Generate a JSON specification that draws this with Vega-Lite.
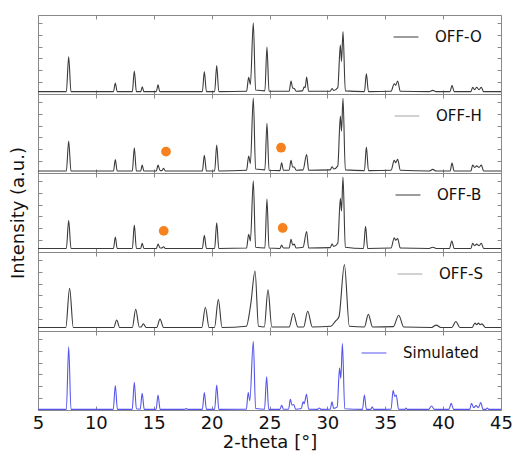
{
"$schema": "https://vega.github.io/schema/vega-lite/v6.json",
"padding": {"left": 8, "top": 14, "right": 2, "bottom": 0},
"background": "white",
"spacing": 0,
"bounds": "flush",
"config": {
  "font": "DejaVu Sans",
  "view": {"stroke": "#888", "strokeWidth": 1},
  "axis": {"grid": false, "domain": false, "tickColor": "#888", "tickSize": -4, "labels": false, "labelFlush": false, "labelFontSize": 18, "labelColor": "#111", "titleFontSize": 18, "titleFontWeight": "normal", "titleColor": "#111"},
  "legend": {"orient": "none", "padding": 0, "labelFontSize": 15, "labelColor": "#111", "symbolType": "stroke", "symbolSize": 620, "symbolStrokeWidth": 1, "labelOffset": 16}
},
"resolve": {"scale": {"color": "independent"}, "legend": {"color": "independent"}},
"datasets": {
"O": [{"x":5,"y":3},{"x":7.45,"y":3},{"x":7.65,"y":47},{"x":7.85,"y":3},{"x":11.52,"y":3},{"x":11.68,"y":14},{"x":11.84,"y":3},{"x":13.15,"y":3},{"x":13.32,"y":29},{"x":13.5,"y":3},{"x":13.87,"y":3},{"x":14.01,"y":9},{"x":14.15,"y":3},{"x":15.22,"y":3},{"x":15.37,"y":11.5},{"x":15.52,"y":3},{"x":19.2,"y":3},{"x":19.37,"y":28.5},{"x":19.55,"y":3},{"x":20.26,"y":3},{"x":20.44,"y":36},{"x":20.62,"y":3},{"x":23.02,"y":3.5},{"x":23.2,"y":21},{"x":23.35,"y":12},{"x":23.6,"y":90},{"x":23.8,"y":5},{"x":24.6,"y":4},{"x":24.78,"y":59.5},{"x":24.96,"y":3.5},{"x":26.7,"y":3.5},{"x":26.86,"y":16.5},{"x":27.0,"y":7.5},{"x":27.14,"y":7},{"x":27.3,"y":3.5},{"x":27.85,"y":4},{"x":28.0,"y":9},{"x":28.08,"y":8},{"x":28.21,"y":21.5},{"x":28.38,"y":3.5},{"x":30.25,"y":3.5},{"x":30.4,"y":7},{"x":30.55,"y":4.5},{"x":30.9,"y":8},{"x":31.12,"y":62},{"x":31.22,"y":41},{"x":31.35,"y":79},{"x":31.55,"y":4},{"x":33.2,"y":3},{"x":33.37,"y":25.5},{"x":33.55,"y":3},{"x":35.5,"y":3.5},{"x":35.78,"y":13},{"x":35.9,"y":11},{"x":36.07,"y":16.5},{"x":36.3,"y":3.5},{"x":38.8,"y":3},{"x":39.1,"y":4.6},{"x":39.4,"y":3},{"x":40.6,"y":3},{"x":40.77,"y":11},{"x":40.95,"y":3},{"x":42.4,"y":3},{"x":42.55,"y":8.5},{"x":42.72,"y":5.5},{"x":42.9,"y":8.5},{"x":43.1,"y":5.5},{"x":43.3,"y":8.5},{"x":43.5,"y":3},{"x":45,"y":3}],
"H": [{"x":5,"y":2.5},{"x":7.45,"y":2.5},{"x":7.65,"y":40.5},{"x":7.85,"y":2.5},{"x":11.52,"y":2.5},{"x":11.68,"y":17},{"x":11.84,"y":2.5},{"x":13.15,"y":2.5},{"x":13.32,"y":32},{"x":13.5,"y":2.5},{"x":13.87,"y":2.5},{"x":14.0,"y":10},{"x":14.15,"y":2.5},{"x":15.22,"y":2.5},{"x":15.37,"y":10},{"x":15.55,"y":3},{"x":15.7,"y":3},{"x":15.85,"y":6},{"x":16.0,"y":2.5},{"x":19.2,"y":2.5},{"x":19.37,"y":22.5},{"x":19.55,"y":2.5},{"x":20.26,"y":2.5},{"x":20.44,"y":35.5},{"x":20.62,"y":2.5},{"x":23.02,"y":3.5},{"x":23.2,"y":21.5},{"x":23.35,"y":12},{"x":23.6,"y":95},{"x":23.8,"y":5},{"x":24.6,"y":4},{"x":24.78,"y":63},{"x":24.96,"y":3.5},{"x":25.9,"y":3},{"x":26.05,"y":13},{"x":26.2,"y":3.5},{"x":26.7,"y":3.5},{"x":26.86,"y":16},{"x":27.0,"y":7.5},{"x":27.14,"y":7.6},{"x":27.3,"y":3.5},{"x":27.9,"y":4},{"x":28.21,"y":23.5},{"x":28.38,"y":3.5},{"x":30.25,"y":4},{"x":30.4,"y":8},{"x":30.55,"y":5},{"x":30.9,"y":9},{"x":31.12,"y":72},{"x":31.22,"y":53},{"x":31.35,"y":94.5},{"x":31.55,"y":4},{"x":33.2,"y":3},{"x":33.37,"y":33},{"x":33.55,"y":3},{"x":35.5,"y":3.5},{"x":35.78,"y":16},{"x":35.9,"y":13},{"x":36.07,"y":17.5},{"x":36.3,"y":3.5},{"x":38.8,"y":2.5},{"x":39.1,"y":4.6},{"x":39.4,"y":2.5},{"x":40.6,"y":2.5},{"x":40.77,"y":12.5},{"x":40.95,"y":2.5},{"x":42.4,"y":2.5},{"x":42.55,"y":10},{"x":42.72,"y":7},{"x":42.9,"y":9},{"x":43.1,"y":7},{"x":43.3,"y":10},{"x":43.5,"y":2.5},{"x":45,"y":2.5}],
"B": [{"x":5,"y":4.5},{"x":7.45,"y":4.5},{"x":7.65,"y":40},{"x":7.85,"y":4.5},{"x":11.52,"y":4.5},{"x":11.68,"y":19},{"x":11.84,"y":4.5},{"x":13.15,"y":4.5},{"x":13.32,"y":34},{"x":13.5,"y":4.5},{"x":13.87,"y":4.5},{"x":14.0,"y":11},{"x":14.15,"y":4.5},{"x":15.22,"y":4.5},{"x":15.37,"y":10},{"x":15.55,"y":5},{"x":15.7,"y":5},{"x":15.85,"y":6.7},{"x":16.0,"y":4.5},{"x":19.2,"y":4.5},{"x":19.37,"y":21},{"x":19.55,"y":4.5},{"x":20.26,"y":4.5},{"x":20.44,"y":37},{"x":20.62,"y":4.5},{"x":23.02,"y":5},{"x":23.2,"y":22.5},{"x":23.35,"y":14},{"x":23.6,"y":90},{"x":23.8,"y":6},{"x":24.6,"y":5},{"x":24.78,"y":67},{"x":24.96,"y":5},{"x":25.9,"y":4.5},{"x":26.05,"y":8.7},{"x":26.2,"y":5},{"x":26.7,"y":5},{"x":26.86,"y":16},{"x":27.0,"y":9},{"x":27.14,"y":10},{"x":27.3,"y":5},{"x":27.9,"y":6},{"x":28.21,"y":26},{"x":28.38,"y":5},{"x":30.25,"y":5.5},{"x":30.4,"y":10},{"x":30.55,"y":7},{"x":30.9,"y":11},{"x":31.12,"y":68},{"x":31.22,"y":52},{"x":31.35,"y":95},{"x":31.55,"y":6},{"x":33.12,"y":4.5},{"x":33.3,"y":32.5},{"x":33.48,"y":4.5},{"x":35.5,"y":5},{"x":35.78,"y":18},{"x":35.9,"y":15},{"x":36.07,"y":17},{"x":36.3,"y":5},{"x":38.8,"y":4.5},{"x":39.1,"y":6},{"x":39.4,"y":4.5},{"x":40.55,"y":4.5},{"x":40.75,"y":14},{"x":40.95,"y":4.5},{"x":42.4,"y":4.5},{"x":42.55,"y":11},{"x":42.72,"y":8},{"x":42.9,"y":10},{"x":43.1,"y":8},{"x":43.3,"y":11},{"x":43.5,"y":4.5},{"x":45,"y":4.5}],
"S": [{"x":5,"y":4.5},{"x":7.4,"y":4.5},{"x":7.73,"y":54},{"x":8.05,"y":4.5},{"x":11.55,"y":4.5},{"x":11.8,"y":14},{"x":12.05,"y":4.5},{"x":13.15,"y":4.5},{"x":13.44,"y":27.5},{"x":13.75,"y":5},{"x":13.9,"y":5},{"x":14.1,"y":9},{"x":14.35,"y":4.5},{"x":15.25,"y":4.5},{"x":15.54,"y":15},{"x":15.85,"y":4.5},{"x":19.15,"y":4.5},{"x":19.46,"y":30},{"x":19.78,"y":4.5},{"x":20.25,"y":4.5},{"x":20.58,"y":40},{"x":20.9,"y":4.5},{"x":23.0,"y":6},{"x":23.38,"y":34},{"x":23.75,"y":76},{"x":24.05,"y":6},{"x":24.55,"y":5},{"x":24.87,"y":52},{"x":25.2,"y":5},{"x":26.7,"y":5},{"x":27.06,"y":22.5},{"x":27.45,"y":5},{"x":27.95,"y":5},{"x":28.3,"y":25},{"x":28.7,"y":5},{"x":30.3,"y":6},{"x":30.7,"y":12.5},{"x":31.0,"y":18},{"x":31.47,"y":84},{"x":31.9,"y":6},{"x":33.2,"y":5},{"x":33.54,"y":21},{"x":33.9,"y":5},{"x":35.7,"y":5.5},{"x":36.16,"y":20},{"x":36.6,"y":5},{"x":39.0,"y":4.5},{"x":39.4,"y":7.5},{"x":39.8,"y":4.5},{"x":40.75,"y":4.5},{"x":41.1,"y":12},{"x":41.45,"y":4.5},{"x":42.5,"y":4.5},{"x":42.75,"y":10},{"x":42.9,"y":8},{"x":43.05,"y":10},{"x":43.2,"y":8},{"x":43.35,"y":9},{"x":43.65,"y":4.5},{"x":45,"y":4.5}],
"Sim": [{"x":5,"y":0.8},{"x":7.45,"y":0.8},{"x":7.65,"y":80},{"x":7.85,"y":0.8},{"x":11.5,"y":0.8},{"x":11.68,"y":31},{"x":11.86,"y":0.8},{"x":13.14,"y":0.8},{"x":13.32,"y":35},{"x":13.5,"y":1.5},{"x":13.83,"y":1},{"x":14.0,"y":21},{"x":14.18,"y":0.8},{"x":15.2,"y":0.8},{"x":15.37,"y":19},{"x":15.55,"y":0.8},{"x":17.65,"y":0.8},{"x":17.8,"y":1.8},{"x":17.95,"y":0.8},{"x":19.2,"y":0.8},{"x":19.37,"y":22},{"x":19.55,"y":0.8},{"x":20.26,"y":0.8},{"x":20.44,"y":31.5},{"x":20.62,"y":0.8},{"x":23.0,"y":1},{"x":23.16,"y":22},{"x":23.3,"y":12},{"x":23.6,"y":87},{"x":23.8,"y":2},{"x":24.57,"y":1},{"x":24.75,"y":42},{"x":24.93,"y":0.8},{"x":25.9,"y":0.8},{"x":26.05,"y":6},{"x":26.2,"y":1},{"x":26.65,"y":1},{"x":26.8,"y":13.5},{"x":26.95,"y":6},{"x":27.1,"y":7},{"x":27.25,"y":1},{"x":27.75,"y":2},{"x":27.9,"y":10.5},{"x":28.0,"y":8},{"x":28.2,"y":20},{"x":28.38,"y":1},{"x":29.15,"y":0.8},{"x":29.3,"y":2.5},{"x":29.45,"y":0.8},{"x":30.25,"y":1},{"x":30.4,"y":10.5},{"x":30.55,"y":2},{"x":30.85,"y":4},{"x":31.05,"y":53},{"x":31.16,"y":40},{"x":31.3,"y":84},{"x":31.5,"y":1.5},{"x":33.03,"y":0.8},{"x":33.2,"y":19},{"x":33.37,"y":0.8},{"x":33.75,"y":0.8},{"x":33.87,"y":4},{"x":34.0,"y":0.8},{"x":35.5,"y":1},{"x":35.68,"y":25},{"x":35.82,"y":17},{"x":35.95,"y":19},{"x":36.15,"y":1},{"x":36.7,"y":0.8},{"x":36.8,"y":2.5},{"x":36.9,"y":0.8},{"x":38.75,"y":0.8},{"x":39.0,"y":5},{"x":39.25,"y":0.8},{"x":40.5,"y":0.8},{"x":40.7,"y":8.5},{"x":40.9,"y":0.8},{"x":42.3,"y":0.8},{"x":42.45,"y":8.5},{"x":42.65,"y":3},{"x":42.85,"y":5.5},{"x":43.05,"y":3},{"x":43.25,"y":9.5},{"x":43.45,"y":0.8},{"x":43.7,"y":0.8},{"x":43.8,"y":2.5},{"x":43.95,"y":0.8},{"x":45,"y":0.8}],
"Hdots": [{"x":16.06,"y":27},{"x":26.0,"y":32}],
"Bdots": [{"x":15.86,"y":26.7},{"x":26.14,"y":30.4}]
},
"vconcat": [
 {"width":463,"height":79,"resolve":{"axis":{"x":"independent","y":"independent"}},"layer":[
  {"data":{"name":"O"},"mark":{"type":"line","interpolate":"monotone","strokeWidth":1.1},
   "encoding":{"x":{"field":"x","type":"quantitative","scale":{"domain":[5,45],"nice":false,"zero":false},"axis":{"values":[5,10,15,20,25,30,35,40,45],"title":null}},
   "y":{"field":"y","type":"quantitative","scale":{"domain":[0,100],"nice":false},"axis":{"values":[0,15,30,45,60,75,90],"title":null}},
   "color":{"datum":"OFF-O","scale":{"domain":["OFF-O"],"range":["#3a3a3a"]},"legend":{"title":null,"legendX":355,"legendY":9}}}},
  {"data":{"name":"O"},"mark":{"type":"line","opacity":0},
   "encoding":{"x":{"field":"x","type":"quantitative","axis":{"orient":"top","values":[5,10,15,20,25,30,35,40,45],"title":null}},
   "y":{"field":"y","type":"quantitative","axis":{"orient":"right","values":[0,15,30,45,60,75,90],"title":null}}}}
 ]},
 {"width":463,"height":79,"resolve":{"axis":{"x":"independent","y":"independent"}},"layer":[
  {"data":{"name":"H"},"mark":{"type":"line","interpolate":"monotone","strokeWidth":1.1},
   "encoding":{"x":{"field":"x","type":"quantitative","scale":{"domain":[5,45],"nice":false,"zero":false},"axis":{"values":[5,10,15,20,25,30,35,40,45],"title":null}},
   "y":{"field":"y","type":"quantitative","scale":{"domain":[0,100],"nice":false},"axis":{"values":[0,15,30,45,60,75,90],"title":null}},
   "color":{"datum":"OFF-H","scale":{"domain":["OFF-H"],"range":["#3a3a3a"]},"legend":{"title":null,"legendX":356,"legendY":9,"symbolOpacity":0.45}}}},
  {"data":{"name":"H"},"mark":{"type":"line","opacity":0},
   "encoding":{"x":{"field":"x","type":"quantitative","axis":{"orient":"top","values":[5,10,15,20,25,30,35,40,45],"title":null}},
   "y":{"field":"y","type":"quantitative","axis":{"orient":"right","values":[0,15,30,45,60,75,90],"title":null}}}},
  {"data":{"name":"Hdots"},"mark":{"type":"circle","size":95,"opacity":1,"color":"#f7801f"},
   "encoding":{"x":{"field":"x","type":"quantitative","axis":null},"y":{"field":"y","type":"quantitative","axis":null}}}
 ]},
 {"width":463,"height":79,"resolve":{"axis":{"x":"independent","y":"independent"}},"layer":[
  {"data":{"name":"B"},"mark":{"type":"line","interpolate":"monotone","strokeWidth":1.1},
   "encoding":{"x":{"field":"x","type":"quantitative","scale":{"domain":[5,45],"nice":false,"zero":false},"axis":{"values":[5,10,15,20,25,30,35,40,45],"title":null}},
   "y":{"field":"y","type":"quantitative","scale":{"domain":[0,100],"nice":false},"axis":{"values":[0,15,30,45,60,75,90],"title":"Intensity (a.u.)","titlePadding":10}},
   "color":{"datum":"OFF-B","scale":{"domain":["OFF-B"],"range":["#3a3a3a"]},"legend":{"title":null,"legendX":357,"legendY":9}}}},
  {"data":{"name":"B"},"mark":{"type":"line","opacity":0},
   "encoding":{"x":{"field":"x","type":"quantitative","axis":{"orient":"top","values":[5,10,15,20,25,30,35,40,45],"title":null}},
   "y":{"field":"y","type":"quantitative","axis":{"orient":"right","values":[0,15,30,45,60,75,90],"title":null}}}},
  {"data":{"name":"Bdots"},"mark":{"type":"circle","size":95,"opacity":1,"color":"#f7801f"},
   "encoding":{"x":{"field":"x","type":"quantitative","axis":null},"y":{"field":"y","type":"quantitative","axis":null}}}
 ]},
 {"width":463,"height":79,"resolve":{"axis":{"x":"independent","y":"independent"}},"layer":[
  {"data":{"name":"S"},"mark":{"type":"line","interpolate":"monotone","strokeWidth":1.1},
   "encoding":{"x":{"field":"x","type":"quantitative","scale":{"domain":[5,45],"nice":false,"zero":false},"axis":{"values":[5,10,15,20,25,30,35,40,45],"title":null}},
   "y":{"field":"y","type":"quantitative","scale":{"domain":[0,100],"nice":false},"axis":{"values":[0,15,30,45,60,75,90],"title":null}},
   "color":{"datum":"OFF-S","scale":{"domain":["OFF-S"],"range":["#3a3a3a"]},"legend":{"title":null,"legendX":359,"legendY":9,"symbolOpacity":0.45}}}},
  {"data":{"name":"S"},"mark":{"type":"line","opacity":0},
   "encoding":{"x":{"field":"x","type":"quantitative","axis":{"orient":"top","values":[5,10,15,20,25,30,35,40,45],"title":null}},
   "y":{"field":"y","type":"quantitative","axis":{"orient":"right","values":[0,15,30,45,60,75,90],"title":null}}}}
 ]},
 {"width":463,"height":79,"resolve":{"axis":{"x":"independent","y":"independent"}},"layer":[
  {"data":{"name":"Sim"},"mark":{"type":"line","interpolate":"monotone","strokeWidth":1.1},
   "encoding":{"x":{"field":"x","type":"quantitative","scale":{"domain":[5,45],"nice":false,"zero":false},"axis":{"values":[5,10,15,20,25,30,35,40,45],"title":"2-theta [°]","labels":true,"labelPadding":8,"titlePadding":1}},
   "y":{"field":"y","type":"quantitative","scale":{"domain":[0,100],"nice":false},"axis":{"values":[0,15,30,45,60,75,90],"title":null}},
   "color":{"datum":"Simulated","scale":{"domain":["Simulated"],"range":["#5555ee"]},"legend":{"title":null,"legendX":323,"legendY":9}}}},
  {"data":{"name":"Sim"},"mark":{"type":"line","opacity":0},
   "encoding":{"x":{"field":"x","type":"quantitative","axis":{"orient":"top","values":[5,10,15,20,25,30,35,40,45],"title":null}},
   "y":{"field":"y","type":"quantitative","axis":{"orient":"right","values":[0,15,30,45,60,75,90],"title":null}}}}
 ]}
]
}
